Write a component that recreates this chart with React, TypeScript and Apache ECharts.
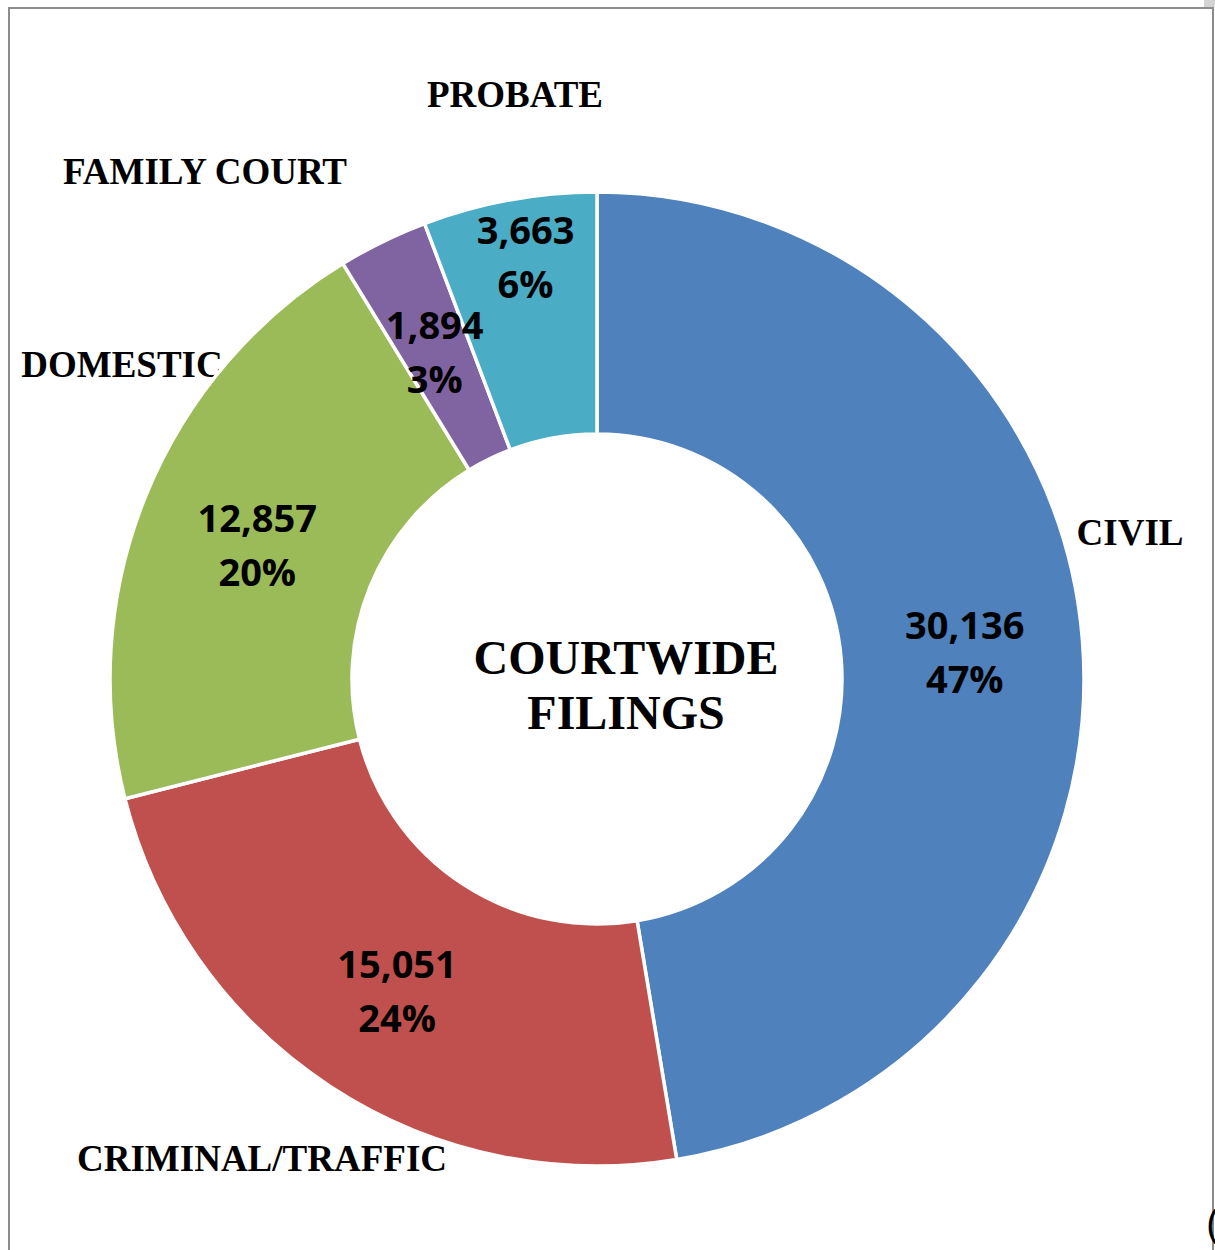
import React, { useEffect, useRef } from "react";
import * as echarts from "echarts";

const categories = ["CIVIL", "CRIMINAL/TRAFFIC", "DOMESTIC", "FAMILY COURT", "PROBATE"];
const filings = [30136, 15051, 12857, 1894, 3663];
const colors = ["#4F81BD", "#C0504D", "#9BBB59", "#8064A2", "#4BACC6"];
const categoryLabelPos: [number, number][] = [
  [1130, 532],
  [262, 1158],
  [122, 364],
  [205, 171],
  [515, 94],
];
const valueLabelShift: [number, number][] = [
  [0, 2],
  [2, 2],
  [2, 4],
  [0, 3],
  [-5, -60],
];
const centerTitle = "COURTWIDE\nFILINGS";

export default function App() {
  const ref = useRef<HTMLDivElement>(null);
  useEffect(() => {
    if (!ref.current) return;
    const chart = echarts.init(ref.current, null, { renderer: "svg" });
    const total = filings.reduce((a, b) => a + b, 0);
    const data = categories.map((c, i) => ({
      name: c,
      value: filings[i],
      itemStyle: { color: colors[i] },
    }));
    const catTexts = categories.map((c, i) => ({
      type: "text",
      x: categoryLabelPos[i][0],
      y: categoryLabelPos[i][1],
      style: {
        text: c,
        font: "bold 37px 'Liberation Serif', 'Times New Roman', serif",
        fill: "#000",
        align: "center",
        verticalAlign: "middle",
      },
    }));
    chart.setOption({
      animation: false,
      backgroundColor: "#ffffff",
      graphic: [
        {
          type: "polyline",
          shape: { points: [[9, 1250], [9, 8], [1213, 8], [1213, 1250]] },
          style: { stroke: "#8c8c8c", lineWidth: 2, fill: null },
          silent: true,
        },
        {
          type: "rect",
          shape: { x: 1204, y: 0, width: 11, height: 7 },
          style: { fill: "#d4d4d4" },
          silent: true,
        },
        {
          type: "text",
          x: 626,
          y: 685,
          style: {
            text: centerTitle,
            font: "bold 48px 'Liberation Serif', 'Times New Roman', serif",
            fill: "#000",
            align: "center",
            verticalAlign: "middle",
            lineHeight: 55,
          },
        },
        ...catTexts,
        {
          type: "text",
          x: 1207,
          y: 1222,
          style: {
            text: "(",
            font: "40px 'Open Sans', sans-serif",
            fill: "#000",
            align: "left",
            verticalAlign: "middle",
          },
        },
      ],
      series: [
        {
          type: "pie",
          center: [597, 679],
          radius: [245, 487],
          startAngle: 90,
          clockwise: true,
          avoidLabelOverlap: false,
          itemStyle: { borderColor: "#ffffff", borderWidth: 3.5 },
          label: {
            show: true,
            position: "inside",
            formatter: (p: any) =>
              p.value.toLocaleString("en-US") + "\n" + Math.round((p.value / total) * 100) + "%",
            fontFamily: "'Open Sans', sans-serif",
            fontWeight: "bold",
            fontSize: 38,
            lineHeight: 54,
            color: "#000",
          },
          labelLayout: (p: any) => ({
            dx: valueLabelShift[p.dataIndex][0],
            dy: valueLabelShift[p.dataIndex][1],
          }),
          labelLine: { show: false },
          emphasis: { disabled: true },
          data,
        },
      ],
    });
    return () => chart.dispose();
  }, []);
  return (
    <div
      ref={ref}
      style={{ position: "absolute", left: 0, top: 0, width: 1215, height: 1250 }}
    />
  );
}
